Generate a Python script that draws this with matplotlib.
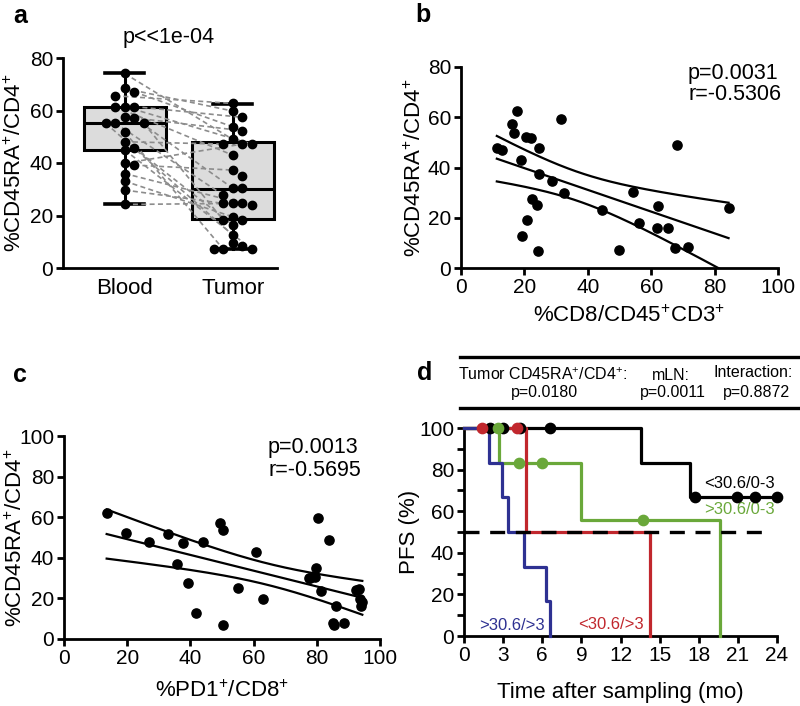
import numpy as np
import matplotlib
matplotlib.use("Agg")
import matplotlib.pyplot as plt
from matplotlib.lines import Line2D

plt.rcParams['font.family'] = ['Liberation Sans', 'DejaVu Sans']
plt.rcParams['mathtext.default'] = 'regular'

# ---------------- data ----------------
# panel a
blood = [74.1, 68.4, 67.1, 65.6, 61.5, 61.5, 61.5, 57.6, 57.2, 55.2, 55.2, 55.2,
         51.8, 48.1, 45.8, 45.0, 39.9, 39.2, 36.0, 33.1, 29.7, 24.2]
tumor = [62.7, 59.8, 57.4, 53.8, 52.3, 49.0, 47.2, 47.2, 47.2, 43.0, 37.3, 35.0,
         30.4, 30.4, 27.8, 24.6, 24.6, 24.6, 24.0, 19.5, 18.3, 18.3, 16.4, 12.6,
         9.5, 8.5, 7.2, 7.2, 7.2]
pair_idx = [5, 1, 3, 0, 2, 9, 6, 4, 12, 20, 14, 23, 26, 7, 22, 27, 8, 10, 16, 19, 15, 17]
groups_a = ["Blood", "Tumor"]
blood_box = dict(whislo=24.2, q1=44.8, med=55.3, q3=61.5, whishi=74.1)
tumor_box = dict(whislo=7.1, q1=18.5, med=30.2, q3=48.1, whishi=62.6)

# panel b
b_x = [11.3, 12.8, 16.0, 16.7, 17.6, 18.8, 19.1, 20.7, 20.5, 22.1, 22.3, 23.9, 24.2,
       24.7, 24.7, 28.8, 31.6, 32.5, 44.4, 49.7, 54.2, 56.2, 62.1, 61.8, 65.2, 67.6,
       68.1, 71.5, 84.4]
b_y = [47.6, 46.9, 57.3, 53.8, 62.4, 43.0, 12.6, 19.2, 52.2, 51.6, 27.5, 25.1, 6.9,
       47.6, 37.3, 34.8, 59.5, 30.0, 23.1, 7.0, 30.4, 17.9, 24.5, 16.1, 16.1, 7.8,
       48.8, 8.3, 23.8]

# panel c
c_x = [13.5, 19.6, 27.0, 32.8, 35.8, 37.8, 39.1, 41.7, 44.1, 49.4, 50.4, 50.2, 55.2,
       60.8, 62.9, 77.6, 77.8, 79.4, 79.7, 80.5, 81.2, 83.9, 85.2, 85.5, 86.1, 88.7,
       92.4, 93.4, 93.7, 94.0, 94.4]
c_y = [62.3, 52.1, 47.7, 51.5, 36.9, 47.2, 27.5, 12.8, 48.0, 57.0, 53.8, 7.0, 25.1,
       43.1, 19.7, 30.2, 30.0, 30.3, 35.0, 59.5, 23.4, 48.9, 7.9, 7.0, 16.4, 7.9,
       24.3, 24.6, 19.7, 16.4, 18.0]

# panel d (Kaplan-Meier steps)
km_black_t = [0, 13.55, 17.3, 24.0]
km_black_s = [100, 83.3, 66.7, 66.7]
km_green_t = [0, 2.7, 8.97, 19.6]
km_green_s = [100, 83.3, 55.6, 0]
km_red_t = [0, 4.75, 14.3]
km_red_s = [100, 50, 0]
km_blue_t = [0, 1.93, 2.95, 3.37, 4.57, 6.27, 6.6]
km_blue_s = [100, 83.3, 66.7, 50, 33.3, 16.7, 0]
cens_black = [2.0, 3.0, 4.3, 6.6, 17.7, 20.9, 22.3, 24.0]
cens_green = [2.6, 4.2, 5.95, 13.7]
cens_red = [1.36, 4.07]
km_labels = ["<30.6/0-3", ">30.6/0-3", "<30.6/>3", ">30.6/>3"]

BLACK = "#000000"
GREEN = "#6aa83a"
RED = "#c1272d"
BLUE = "#2e3192"

fig = plt.figure(figsize=(8, 7.06), dpi=100)
W, H = 800, 706

TICK = 15
LAB = 16
PS = 15.5


def rect(l, r, t, b):
    return [l / W, 1 - b / H, (r - l) / W, (b - t) / H]


def style(ax):
    for s in ["top", "right"]:
        ax.spines[s].set_visible(False)
    for s in ["left", "bottom"]:
        ax.spines[s].set_linewidth(2.0)
    ax.tick_params(direction="out", length=5, width=2.0, labelsize=TICK, pad=2)


YLAB = r"$\%CD45RA^{+}/CD4^{+}$"

# ---------------- panel a ----------------
axa = fig.add_axes(rect(63, 277, 58, 268))
style(axa)
axa.set_xlim(0.43, 2.41)
axa.set_ylim(0, 80)
axa.set_yticks([0, 20, 40, 60, 80])
axa.set_xticks([1, 2])
axa.set_xticklabels(groups_a)
axa.tick_params(axis="x", length=0, pad=7, labelsize=LAB)
stats = []
for st, lab in zip([blood_box, tumor_box], groups_a):
    d = dict(st)
    d["label"] = lab
    stats.append(d)
axa.bxp(stats, positions=[1, 2], widths=0.76, showfliers=False, patch_artist=True,
        boxprops=dict(facecolor="#dcdcdc", edgecolor="black", linewidth=2.2),
        medianprops=dict(color="black", linewidth=2.2),
        whiskerprops=dict(color="black", linewidth=2.2),
        capprops=dict(color="black", linewidth=2.6), capwidths=0.36, zorder=1)


def swarm(vals, center, px_x=108.0, px_y=2.625, d=7.6, step=9.5):
    order = np.argsort(vals)[::-1]
    placed = []
    offs = np.zeros(len(vals))
    cands = [0]
    for k in range(1, 6):
        cands += [k, -k]
    for i in order:
        y = vals[i] * px_y
        for c in cands:
            x = c * step
            if all((x - px) ** 2 + (y - py) ** 2 >= d ** 2 for px, py in placed):
                placed.append((x, y))
                offs[i] = x / px_x
                break
    return center + offs


bx = swarm(np.array(blood), 1.0)
tx = swarm(np.array(tumor), 2.0)
for i, j in enumerate(pair_idx):
    axa.plot([bx[i], tx[j]], [blood[i], tumor[j]], color="#8c8c8c", lw=1.2,
             ls=(0, (3, 2)), zorder=2)
axa.scatter(bx, blood, s=36, color="black", zorder=4, clip_on=False)
axa.scatter(tx, tumor, s=36, color="black", zorder=4, clip_on=False)
axa.set_ylabel(YLAB, fontsize=LAB, va="center")
axa.yaxis.set_label_coords(-0.225, 0.5)
fig.text(169 / W, 1 - 38 / H, "p<<1e-04", ha="center", va="center", fontsize=PS)


# ---------------- regression helper ----------------
def reg_lines(ax, x, y):
    x = np.asarray(x); y = np.asarray(y)
    n = len(x)
    slope, inter = np.polyfit(x, y, 1)
    xs = np.linspace(x.min(), x.max(), 200)
    yh = inter + slope * xs
    res = y - (inter + slope * x)
    s = np.sqrt(np.sum(res ** 2) / (n - 2))
    sxx = np.sum((x - x.mean()) ** 2)
    tval = 2.05
    se = s * np.sqrt(1 / n + (xs - x.mean()) ** 2 / sxx)
    for yy in (yh, yh + tval * se, yh - tval * se):
        ax.plot(xs, yy, color="black", lw=1.6, zorder=2)


# ---------------- panel b ----------------
axb = fig.add_axes(rect(461, 778, 67, 268))
style(axb)
axb.set_xlim(0, 100)
axb.set_ylim(0, 80)
axb.set_xticks([0, 20, 40, 60, 80, 100])
axb.set_yticks([0, 20, 40, 60, 80])
reg_lines(axb, b_x, b_y)
axb.scatter(b_x, b_y, s=44, color="black", zorder=3, clip_on=False)
axb.set_ylabel(YLAB, fontsize=LAB, va="center")
axb.yaxis.set_label_coords(-0.145, 0.5)
axb.set_xlabel(r"$\%CD8/CD45^{+}CD3^{+}$", fontsize=LAB, va="top")
axb.xaxis.set_label_coords(0.53, -0.185)
fig.text(688 / W, 1 - 73 / H, "p=0.0031", ha="left", va="center", fontsize=PS)
fig.text(688 / W, 1 - 95 / H, "r=-0.5306", ha="left", va="center", fontsize=PS)

# ---------------- panel c ----------------
axc = fig.add_axes(rect(64, 380, 436, 639))
style(axc)
axc.set_xlim(0, 100)
axc.set_ylim(0, 100)
axc.set_xticks([0, 20, 40, 60, 80, 100])
axc.set_yticks([0, 20, 40, 60, 80, 100])
reg_lines(axc, c_x, c_y)
axc.scatter(c_x, c_y, s=44, color="black", zorder=3, clip_on=False)
axc.set_ylabel(YLAB, fontsize=LAB, va="center")
axc.yaxis.set_label_coords(-0.15, 0.5)
axc.set_xlabel(r"$\%PD1^{+}/CD8^{+}$", fontsize=LAB, va="top")
axc.xaxis.set_label_coords(0.5, -0.205)
fig.text(268 / W, 1 - 448 / H, "p=0.0013", ha="left", va="center", fontsize=PS)
fig.text(268 / W, 1 - 471 / H, "r=-0.5695", ha="left", va="center", fontsize=PS)

# ---------------- panel d ----------------
axd = fig.add_axes(rect(464, 777, 428, 636))
style(axd)
axd.set_xlim(0, 24)
axd.set_ylim(0, 100)
axd.set_xticks(np.arange(0, 25, 3))
axd.set_yticks([0, 20, 40, 60, 80, 100])
axd.set_yticks(np.arange(10, 100, 20), minor=True)
axd.tick_params(axis="y", which="minor", direction="out", length=5, width=2.0)


def surv_at(t_arr, s_arr, t):
    i = np.searchsorted(t_arr, t, side="right") - 1
    return s_arr[i]


curves = [(km_black_t, km_black_s, cens_black, BLACK),
          (km_green_t, km_green_s, cens_green, GREEN),
          (km_red_t, km_red_s, cens_red, RED),
          (km_blue_t, km_blue_s, [], BLUE)]
for t, s, cens, col in curves:
    axd.plot(t, s, drawstyle="steps-post", color=col, lw=2.3, clip_on=False, zorder=3)
    if cens:
        cy = [surv_at(t, s, c) for c in cens]
        axd.scatter(cens, cy, s=55, color=col, zorder=4, clip_on=False)
axd.plot([0, 23], [50, 50], color="black", lw=2.4, ls=(0, (4.5, 3.2)), zorder=5)

KS = 12
axd.text(21.1, 73.4, km_labels[0], color=BLACK, ha="center", va="center", fontsize=KS)
axd.text(21.1, 60.6, km_labels[1], color=GREEN, ha="center", va="center", fontsize=KS)
axd.text(11.3, 5.3, km_labels[2], color=RED, ha="center", va="center", fontsize=KS)
axd.text(3.66, 5.0, km_labels[3], color=BLUE, ha="center", va="center", fontsize=KS)
axd.set_ylabel("PFS (%)", fontsize=LAB, va="center")
axd.yaxis.set_label_coords(-0.175, 0.5)
axd.set_xlabel("Time after sampling (mo)", fontsize=LAB, va="center")
axd.xaxis.set_label_coords(0.5, -0.27)

# header of panel d
for yy in (357, 408):
    fig.add_artist(Line2D([460 / W, 1.0], [1 - yy / H, 1 - yy / H], color="black", lw=2.4))
HS = 11.5
fig.text(543 / W, 1 - 375 / H, r"Tumor $CD45RA^{+}/CD4^{+}$:", ha="center", va="center", fontsize=HS)
fig.text(544 / W, 1 - 393 / H, "p=0.0180", ha="center", va="center", fontsize=HS)
fig.text(671 / W, 1 - 375 / H, "mLN:", ha="center", va="center", fontsize=HS)
fig.text(673 / W, 1 - 393 / H, "p=0.0011", ha="center", va="center", fontsize=HS)
fig.text(753 / W, 1 - 373 / H, "Interaction:", ha="center", va="center", fontsize=HS)
fig.text(756 / W, 1 - 392 / H, "p=0.8872", ha="center", va="center", fontsize=HS)

# panel letters
for lab, x, y in [("a", 20, 16), ("b", 423, 15), ("c", 20, 375), ("d", 425, 373)]:
    fig.text(x / W, 1 - y / H, lab, ha="center", va="center", fontsize=18, fontweight="bold")

fig.savefig("out.png", dpi=100)
